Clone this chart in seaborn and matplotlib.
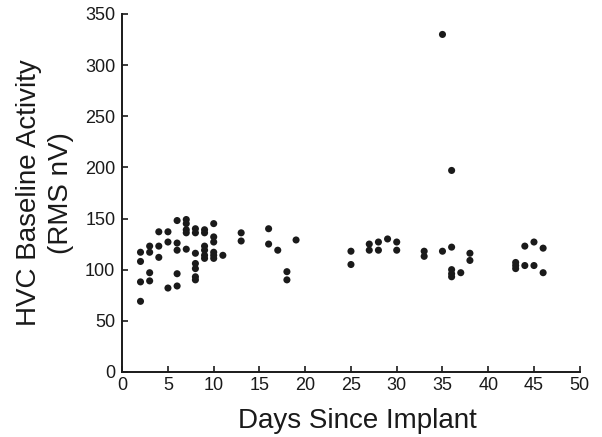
import matplotlib
matplotlib.use("Agg")
import matplotlib.pyplot as plt
import seaborn as sns
import pandas as pd

# Recording day of each measurement
days = [2, 2, 2, 2,
        3, 3, 3, 3,
        4, 4, 4,
        5, 5, 5,
        6, 6, 6, 6, 6,
        7, 7, 7, 7, 7,
        8, 8, 8, 8, 8, 8, 8,
        9, 9, 9, 9, 9, 9,
        10, 10, 10, 10, 10, 10,
        11,
        13, 13,
        16, 16, 17, 18, 18, 19,
        25, 25, 27, 27, 28, 28, 29, 30, 30,
        33, 33, 35, 35, 36, 36, 36, 36, 36, 37, 38, 38,
        43, 43, 43, 44, 44, 45, 45, 46, 46]

# Baseline activity (RMS nV) for each measurement
rms_nv = [117, 108, 88, 69,
          123, 117, 97, 89,
          137, 123, 112,
          137, 127, 82,
          148, 126, 119, 96, 84,
          149, 145, 139, 136, 120,
          140, 136, 116, 106, 101, 93, 90,
          139, 136, 123, 119, 114, 111,
          145, 132, 127, 117, 114, 111,
          114,
          136, 128,
          140, 125, 119, 98, 90, 129,
          118, 105, 125, 119, 127, 119, 130, 127, 119,
          118, 113, 118, 330, 122, 197, 100, 96, 93, 97, 116, 109,
          107, 104, 101, 123, 104, 127, 104, 121, 97]

x_ticks = [0, 5, 10, 15, 20, 25, 30, 35, 40, 45, 50]
y_ticks = [0, 50, 100, 150, 200, 250, 300, 350]

df = pd.DataFrame({"day": days, "rms": rms_nv})

sns.set_theme(style="ticks")
plt.rcParams["font.family"] = ["Liberation Sans", "DejaVu Sans"]

fig = plt.figure(figsize=(6.02, 4.37), dpi=100)
ax = fig.add_axes([0.203, 0.149, 0.76, 0.819])

sns.scatterplot(data=df, x="day", y="rms", ax=ax, color="#1a1a1a",
                s=26, edgecolor="none", linewidth=0)

ax.set_xlim(0, 50)
ax.set_ylim(0, 350)
ax.set_xticks(x_ticks)
ax.set_yticks(y_ticks)
ax.tick_params(direction="in", length=4, width=1.2, labelsize=13,
               colors="#1a1a1a", pad=4)
ax.tick_params(axis="y", pad=5)

for side in ("top", "right"):
    ax.spines[side].set_visible(False)
for side in ("left", "bottom"):
    ax.spines[side].set_linewidth(1.4)
    ax.spines[side].set_color("#1a1a1a")

ax.set_xlabel("Days Since Implant", fontsize=20, color="#1a1a1a", labelpad=10)
ax.xaxis.label.set_x(0.515)
ax.set_ylabel("HVC Baseline Activity\n(RMS nV)", fontsize=20,
              color="#1a1a1a", labelpad=8, linespacing=1.3)

fig.savefig("out.png", dpi=100)
